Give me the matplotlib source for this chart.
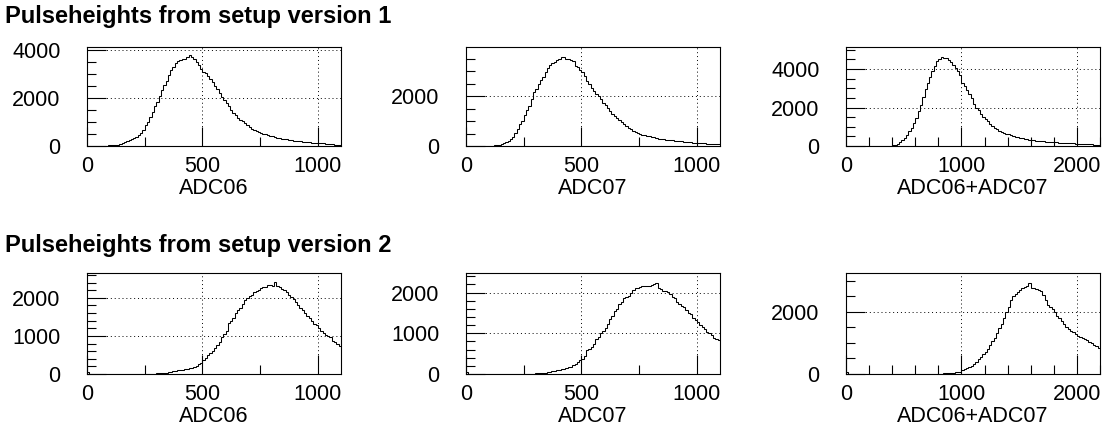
import matplotlib.pyplot as plt
import numpy as np

plt.rcParams['font.family'] = ['Liberation Sans', 'DejaVu Sans']

# ---------------- Data (bin contents) ----------------
adc_edges = np.linspace(0, 1100, 111)     # ADC06 / ADC07: 10 counts per bin
sum_edges = np.linspace(0, 2200, 111)     # ADC06+ADC07: 20 counts per bin

v1_adc06 = [0, 0, 0, 2, 4, 6, 8, 12, 18, 24,
            30, 40, 50, 60, 90, 120, 160, 200, 240, 290,
            340, 390, 450, 560, 680, 860, 1000, 1200, 1400, 1650,
            1850, 2080, 2320, 2550, 2700, 2960, 3150, 3280, 3450, 3550,
            3560, 3620, 3600, 3700, 3780, 3720, 3620, 3500, 3380, 3200,
            3100, 3020, 2900, 2780, 2650, 2500, 2380, 2200, 2040, 1920,
            1800, 1650, 1500, 1380, 1290, 1180, 1100, 1030, 950, 860,
            790, 710, 660, 610, 570, 540, 500, 480, 450, 420,
            400, 380, 350, 330, 310, 290, 275, 260, 240, 225,
            215, 200, 190, 180, 170, 160, 150, 145, 140, 130,
            125, 115, 105, 100, 90, 80, 70, 62, 58, 55]

v1_adc07 = [0, 0, 0, 0, 0, 0, 2, 4, 6, 10,
            15, 20, 30, 45, 60, 90, 120, 170, 220, 290,
            360, 520, 700, 880, 1000, 1250, 1450, 1620, 1900, 2150,
            2300, 2480, 2650, 2750, 2950, 3120, 3250, 3320, 3380, 3460,
            3500, 3560, 3580, 3500, 3480, 3460, 3420, 3220, 3150, 3050,
            2960, 2800, 2620, 2480, 2340, 2220, 2100, 2000, 1900, 1720,
            1640, 1520, 1400, 1300, 1220, 1120, 1040, 960, 880, 800,
            720, 680, 620, 580, 540, 490, 460, 430, 410, 390,
            370, 345, 320, 300, 290, 270, 260, 250, 240, 230,
            220, 210, 200, 190, 180, 170, 160, 150, 140, 135,
            130, 125, 118, 110, 100, 90, 80, 80, 78, 70]

v1_sum = [0, 0, 0, 0, 0, 0, 0, 0, 0, 0,
          0, 0, 0, 0, 0, 2, 4, 8, 12, 20,
          40, 70, 120, 200, 300, 400, 580, 760, 950, 1200,
          1450, 1800, 2150, 2550, 2950, 3300, 3600, 3900, 4150, 4400,
          4550, 4620, 4600, 4580, 4450, 4350, 4200, 4050, 3900, 3700,
          3300, 3100, 2900, 2700, 2500, 2200, 2000, 1850, 1680, 1500,
          1400, 1280, 1150, 1050, 960, 880, 800, 740, 690, 640,
          600, 550, 510, 480, 450, 420, 400, 375, 350, 330,
          320, 300, 280, 270, 255, 240, 230, 215, 205, 200,
          190, 185, 175, 165, 155, 150, 145, 140, 135, 125,
          120, 115, 105, 100, 95, 90, 85, 78, 72, 68]

v2_adc06 = [50, 0, 0, 0, 0, 0, 0, 0, 0, 0,
            0, 0, 0, 0, 0, 0, 0, 0, 0, 0,
            0, 0, 0, 0, 0, 0, 2, 4, 8, 10,
            14, 18, 24, 30, 38, 50, 60, 70, 85, 95,
            105, 115, 125, 140, 155, 170, 190, 215, 250, 290,
            370, 430, 500, 540, 610, 680, 760, 850, 960, 1060,
            1140, 1330, 1400, 1480, 1600, 1680, 1740, 1840, 1950, 2000,
            2040, 2060, 2150, 2190, 2200, 2260, 2280, 2270, 2340, 2330,
            2300, 2420, 2300, 2280, 2240, 2200, 2160, 2080, 2020, 1960,
            1900, 1800, 1740, 1680, 1600, 1520, 1460, 1380, 1320, 1280,
            1200, 1140, 1080, 1030, 1000, 960, 860, 830, 780, 730]

v2_adc07 = [50, 0, 0, 0, 0, 0, 0, 0, 0, 0,
            0, 0, 0, 0, 0, 0, 0, 0, 0, 0,
            0, 0, 0, 0, 0, 0, 2, 5, 8, 12,
            15, 18, 22, 25, 35, 45, 55, 70, 85, 98,
            105, 115, 125, 145, 165, 180, 215, 245, 290, 350,
            380, 440, 580, 620, 660, 740, 860, 920, 1000, 1060,
            1120, 1220, 1360, 1420, 1540, 1600, 1720, 1780, 1860, 1880,
            1920, 1980, 2060, 2100, 2110, 2140, 2160, 2150, 2170, 2160,
            2190, 2210, 2240, 2100, 2080, 2050, 2040, 2020, 1970, 1900,
            1860, 1780, 1720, 1680, 1640, 1560, 1510, 1470, 1380, 1320,
            1280, 1210, 1150, 1100, 1040, 1000, 960, 880, 860, 830]

v2_sum = [50, 0, 0, 0, 0, 0, 0, 0, 0, 0,
          0, 0, 0, 0, 0, 0, 0, 0, 0, 0,
          0, 0, 0, 0, 0, 0, 0, 0, 0, 0,
          0, 0, 0, 0, 0, 0, 2, 4, 6, 10,
          12, 16, 20, 25, 30, 35, 40, 50, 60, 80,
          130, 160, 190, 230, 270, 330, 400, 470, 550, 640,
          700, 800, 950, 1050, 1170, 1320, 1480, 1600, 1800, 2000,
          2150, 2380, 2500, 2580, 2640, 2700, 2760, 2800, 2820, 2930,
          2780, 2760, 2740, 2700, 2660, 2550, 2380, 2220, 2150, 2080,
          1990, 1880, 1800, 1720, 1600, 1500, 1440, 1390, 1340, 1290,
          1220, 1180, 1150, 1120, 1080, 1040, 1000, 950, 900, 850]

titles = ['Pulseheights from setup version 1', 'Pulseheights from setup version 2']
xlabels = ['ADC06', 'ADC07', 'ADC06+ADC07']

rows = [
    [(v1_adc06, adc_edges, 4120, 2000, 500),
     (v1_adc07, adc_edges, 3970, 2000, 500),
     (v1_sum, sum_edges, 5150, 2000, 500)],
    [(v2_adc06, adc_edges, 2650, 1000, 200),
     (v2_adc07, adc_edges, 2480, 1000, 200),
     (v2_sum, sum_edges, 3255, 2000, 500)],
]

# ---------------- Plotting ----------------
W, H = 1112, 434
fig = plt.figure(figsize=(W / 100, H / 100), dpi=100)

col_x = [(87, 341), (466, 720), (846, 1100)]
row_y = [(47, 146), (273, 374)]
title_y = [5, 234]

for r, row in enumerate(rows):
    fig.text(5 / W, 1 - title_y[r] / H, titles[r], fontsize=17, fontweight='bold',
             ha='left', va='top')
    top, bottom = row_y[r]
    for c, (vals, edges, ymax, ymaj, ymin_step) in enumerate(row):
        left, right = col_x[c]
        ax = fig.add_axes([left / W, 1 - bottom / H, (right - left) / W, (bottom - top) / H])
        ax.stairs(vals, edges, baseline=None, color='black', linewidth=0.75)
        xmax = edges[-1]
        ax.set_xlim(0, xmax)
        ax.set_ylim(0, ymax)
        xmaj = 500 if xmax < 2000 else 1000
        xmin_step = 250 if xmax < 2000 else 200
        ax.set_xticks(np.arange(0, xmax + 1, xmaj))
        ax.set_xticks(np.arange(0, xmax + 1, xmin_step), minor=True)
        ax.set_yticks(np.arange(0, ymax + 1, ymaj))
        ax.set_yticks(np.arange(0, ymax + 1, ymin_step), minor=True)
        ax.tick_params(which='both', direction='in', top=False, right=False,
                       width=0.8, labelsize=15.5)
        ax.tick_params(which='major', length=13.5)
        ax.tick_params(which='minor', length=6.5)
        ax.tick_params(axis='x', pad=7)
        ax.tick_params(axis='y', pad=19)
        ax.grid(True, which='major', color='black', linestyle=(0, (1, 3)), linewidth=0.7)
        for s in ax.spines.values():
            s.set_linewidth(0.8)
        ax.set_xlabel(xlabels[c], fontsize=15.5, labelpad=1)

plt.savefig('out.png', dpi=100)
